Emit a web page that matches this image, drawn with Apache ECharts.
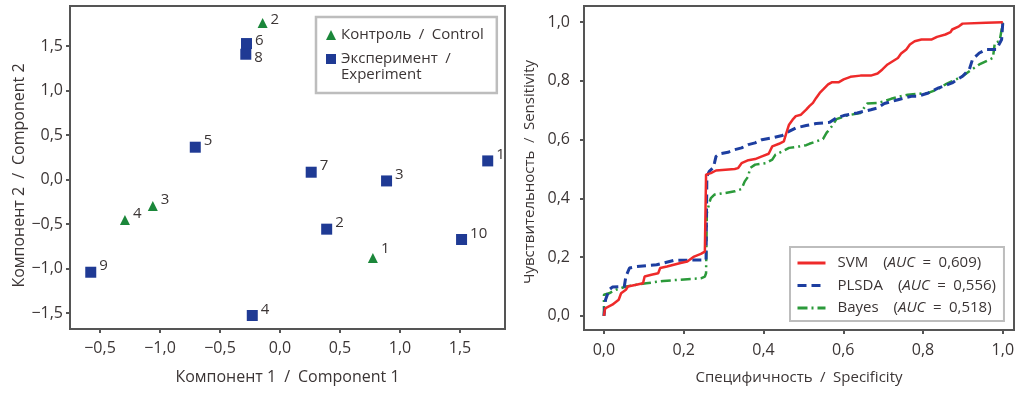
<!DOCTYPE html>
<html><head><meta charset="utf-8">
<script src="https://cdn.jsdelivr.net/npm/echarts@6/dist/echarts.min.js"></script>
<style>html,body{margin:0;padding:0;background:#fff}#c{width:1024px;height:394px}</style>
</head><body><div id="c"></div>
<script>
// ---------- Data: left panel (PCA scores) ----------
const controlLabels = ['2', '3', '4', '1'];
const controlX = [-0.145, -1.06, -1.292, 0.774];
const controlY = [1.76, -0.297, -0.454, -0.881];

const experimentLabels = ['6', '8', '5', '7', '3', '1', '2', '10', '9', '4'];
const experimentX = [-0.279, -0.285, -0.706, 0.26, 0.888, 1.731, 0.389, 1.513, -1.577, -0.231];
const experimentY = [1.528, 1.408, 0.363, 0.082, -0.016, 0.209, -0.558, -0.674, -1.042, -1.528];

const leftXTickValues = [-1.5, -1.0, -0.5, 0, 0.5, 1.0, 1.5];
const leftXTickLabels = ['\u22120,5', '\u22121,0', '\u22120,5', '0,0', '0,5', '1,0', '1,5'];
const leftYTickValues = [-1.5, -1.0, -0.5, 0, 0.5, 1.0, 1.5];
const leftYTickLabels = ['\u22121,5', '\u22121,0', '\u22120,5', '0,0', '0,5', '1,0', '1,5'];

// ---------- Data: right panel (ROC curves) ----------
const svmX = [0, 0.003, 0.021, 0.037, 0.043, 0.055, 0.060, 0.081, 0.098, 0.102, 0.119, 0.136, 0.141, 0.158, 0.175, 0.192, 0.209, 0.226, 0.243, 0.253, 0.256, 0.268, 0.281, 0.328, 0.336, 0.345, 0.362, 0.379, 0.396, 0.413, 0.422, 0.439, 0.451, 0.456, 0.464, 0.473, 0.481, 0.494, 0.507, 0.515, 0.524, 0.532, 0.541, 0.549, 0.562, 0.571, 0.588, 0.601, 0.618, 0.643, 0.669, 0.686, 0.698, 0.711, 0.724, 0.737, 0.745, 0.758, 0.767, 0.779, 0.796, 0.822, 0.835, 0.856, 0.869, 0.873, 0.890, 0.899, 0.958, 1.0];
const svmY = [0, 0.026, 0.038, 0.055, 0.077, 0.089, 0.100, 0.106, 0.111, 0.134, 0.140, 0.145, 0.163, 0.168, 0.174, 0.180, 0.185, 0.202, 0.211, 0.219, 0.481, 0.486, 0.495, 0.500, 0.503, 0.520, 0.530, 0.534, 0.543, 0.552, 0.577, 0.586, 0.594, 0.617, 0.651, 0.668, 0.680, 0.685, 0.702, 0.714, 0.725, 0.742, 0.759, 0.770, 0.788, 0.795, 0.795, 0.805, 0.814, 0.818, 0.818, 0.825, 0.839, 0.856, 0.867, 0.878, 0.893, 0.907, 0.924, 0.935, 0.941, 0.941, 0.950, 0.958, 0.966, 0.975, 0.986, 0.995, 0.998, 1.0];

const plsdaX = [0, 0.002, 0.004, 0.013, 0.021, 0.051, 0.055, 0.064, 0.081, 0.132, 0.149, 0.175, 0.256, 0.258, 0.264, 0.273, 0.277, 0.281, 0.290, 0.311, 0.328, 0.345, 0.362, 0.379, 0.396, 0.422, 0.447, 0.464, 0.481, 0.507, 0.532, 0.566, 0.583, 0.601, 0.635, 0.669, 0.686, 0.703, 0.737, 0.771, 0.788, 0.813, 0.839, 0.873, 0.899, 0.916, 0.924, 0.941, 0.958, 0.984, 0.997, 1.0];
const plsdaY = [0, 0.026, 0.055, 0.089, 0.098, 0.100, 0.134, 0.163, 0.168, 0.174, 0.180, 0.189, 0.191, 0.475, 0.492, 0.503, 0.520, 0.543, 0.552, 0.557, 0.566, 0.572, 0.583, 0.589, 0.600, 0.606, 0.614, 0.628, 0.640, 0.648, 0.655, 0.659, 0.674, 0.682, 0.691, 0.702, 0.708, 0.723, 0.736, 0.748, 0.748, 0.759, 0.776, 0.793, 0.816, 0.839, 0.873, 0.895, 0.907, 0.907, 0.941, 1.0];

const bayesX = [0, 0, 0.013, 0.030, 0.055, 0.081, 0.106, 0.149, 0.209, 0.243, 0.253, 0.256, 0.258, 0.264, 0.268, 0.277, 0.302, 0.328, 0.345, 0.353, 0.362, 0.366, 0.379, 0.405, 0.422, 0.430, 0.447, 0.464, 0.490, 0.507, 0.515, 0.532, 0.549, 0.558, 0.571, 0.583, 0.609, 0.643, 0.652, 0.660, 0.686, 0.703, 0.720, 0.745, 0.762, 0.813, 0.839, 0.856, 0.873, 0.899, 0.916, 0.941, 0.967, 0.975, 0.980, 0.992, 1.0];
const bayesY = [0, 0.072, 0.077, 0.089, 0.100, 0.106, 0.111, 0.119, 0.125, 0.128, 0.134, 0.145, 0.350, 0.384, 0.401, 0.413, 0.418, 0.424, 0.432, 0.458, 0.475, 0.503, 0.515, 0.520, 0.532, 0.549, 0.560, 0.572, 0.577, 0.581, 0.586, 0.594, 0.602, 0.623, 0.645, 0.670, 0.682, 0.691, 0.708, 0.723, 0.725, 0.731, 0.739, 0.748, 0.753, 0.759, 0.773, 0.788, 0.799, 0.816, 0.833, 0.856, 0.873, 0.878, 0.930, 0.935, 1.0];

const rocNames = ['SVM', 'PLSDA', 'Bayes'];
const aucLabels = ['0,609', '0,556', '0,518'];

const rightTickValues = [0, 0.2, 0.4, 0.6, 0.8, 1.0];
const rightTickLabels = ['0,0', '0,2', '0,4', '0,6', '0,8', '1,0'];

// ---------- Chart ----------
const FONT = "'Open Sans', 'Noto Sans', sans-serif";
const TXT = '#3b3535';
const AX = '#555555';
const SEP = '\u2002/\u2002';
const zip = (a, b) => a.map((v, i) => [v, b[i]]);
const lookup = (vals, labs) => (v) => {
  const i = vals.findIndex(t => Math.abs(t - v) < 1e-9);
  return i >= 0 ? labs[i] : '';
};

function valueAxis(gridIndex, min, max, tickVals, tickLabs, name, nameGap, labelMargin, nameStyle) {
  return {
    type: 'value', gridIndex, min, max,
    name, nameLocation: 'middle', nameGap,
    nameTextStyle: Object.assign({ fontFamily: FONT, fontSize: 16, color: TXT }, nameStyle || {}),
    axisLine: { show: true, onZero: false, lineStyle: { color: AX, width: 2 } },
    axisTick: { show: true, length: 4, lineStyle: { color: AX, width: 2 }, customValues: tickVals },
    axisLabel: { customValues: tickVals, formatter: lookup(tickVals, tickLabs), fontFamily: FONT, fontSize: 16, color: TXT, margin: labelMargin },
    splitLine: { show: false }
  };
}

// label placement tweaks (style only) for crowded points
const controlLabelDy = { '2': -3, '1': -9 };
const experimentLabelDy = { '6': -3, '8': 4 };
const pointLabel = { show: true, position: 'right', distance: 3, offset: [0, -6], fontFamily: FONT, fontSize: 15, color: TXT };
const mkPoints = (xs, ys, labs, dyMap) => xs.map((x, i) => ({
  value: [x, ys[i]],
  label: { formatter: labs[i], offset: [0, dyMap[labs[i]] !== undefined ? dyMap[labs[i]] : -6] }
}));

const nameControl = 'Контроль' + SEP + 'Control';
// leading blank line keeps the marker level with the first text line
const nameExp = ' \nЭксперимент' + SEP + '\nExperiment';

const legendTextBase = { fontFamily: FONT, fontSize: 15, color: TXT };

const option = {
  animation: false,
  backgroundColor: '#ffffff',
  grid: [
    { left: 70, top: 6, width: 435, height: 323, show: true, borderColor: AX, borderWidth: 2 },
    { left: 584, top: 6, width: 430, height: 324, show: true, borderColor: AX, borderWidth: 2 }
  ],
  xAxis: [
    valueAxis(0, -1.75, 1.875, leftXTickValues, leftXTickLabels, 'Компонент 1' + SEP + 'Component 1', 40, 11),
    valueAxis(1, -0.05, 1.028, rightTickValues, rightTickLabels, 'Специфичность' + SEP + 'Specificity', 40, 12, { fontSize: 15 })
  ],
  yAxis: [
    valueAxis(0, -1.68, 1.95, leftYTickValues, leftYTickLabels, 'Компонент 2' + SEP + 'Component 2', 42, 7, { padding: [0, 16, 0, 0] }),
    valueAxis(1, -0.048, 1.055, rightTickValues, rightTickLabels, 'Чувствительность' + SEP + 'Sensitivity', 47, 14, { fontSize: 15, padding: [0, 8, 0, 0] })
  ],
  legend: [
    {
      left: 316, top: 17, orient: 'vertical',
      backgroundColor: '#fff', borderColor: '#bdbdbd', borderWidth: 2.5,
      padding: [10, 13, 10, 10], itemGap: -8, itemWidth: 10, itemHeight: 10,
      textStyle: Object.assign({ lineHeight: 16 }, legendTextBase),
      data: [
        { name: nameControl, icon: 'triangle' },
        { name: nameExp, icon: 'rect' }
      ]
    },
    {
      left: 790, top: 247, orient: 'vertical',
      backgroundColor: '#fff', borderColor: '#bdbdbd', borderWidth: 2,
      padding: [7, 8, 4, 6], itemGap: 4.5, itemWidth: 28, itemHeight: 14,
      itemStyle: { opacity: 0 },
      lineStyle: { width: 3 },
      data: rocNames,
      formatter: (name) => {
        const i = rocNames.indexOf(name);
        return name + '\u2002\u2002({i|AUC}\u2002=\u2002' + aucLabels[i] + ')';
      },
      textStyle: Object.assign({ padding: [0, 0, 0, 7], lineHeight: 18, rich: { i: { fontFamily: FONT, fontSize: 15, color: TXT, fontStyle: 'italic' } } }, legendTextBase)
    }
  ],
  series: [
    {
      name: nameControl, type: 'scatter', xAxisIndex: 0, yAxisIndex: 0,
      symbol: 'triangle', symbolSize: 10, itemStyle: { color: '#1b873a', opacity: 1 },
      label: pointLabel, data: mkPoints(controlX, controlY, controlLabels, controlLabelDy), z: 3
    },
    {
      name: nameExp, type: 'scatter', xAxisIndex: 0, yAxisIndex: 0,
      symbol: 'rect', symbolSize: 11, itemStyle: { color: '#1f3a94', opacity: 1 },
      label: pointLabel, data: mkPoints(experimentX, experimentY, experimentLabels, experimentLabelDy), z: 2
    },
    {
      name: rocNames[0], type: 'line', xAxisIndex: 1, yAxisIndex: 1, symbol: 'none', z: 4,
      lineStyle: { color: '#ee2a2a', width: 2.5 }, itemStyle: { color: '#ee2a2a' },
      data: zip(svmX, svmY)
    },
    {
      name: rocNames[1], type: 'line', xAxisIndex: 1, yAxisIndex: 1, symbol: 'none', z: 3,
      lineStyle: { color: '#1d3ea0', width: 3, type: [9, 5] }, itemStyle: { color: '#1d3ea0' },
      data: zip(plsdaX, plsdaY)
    },
    {
      name: rocNames[2], type: 'line', xAxisIndex: 1, yAxisIndex: 1, symbol: 'none', z: 2,
      lineStyle: { color: '#2b9a3a', width: 2.5, type: [10, 4, 2, 4] }, itemStyle: { color: '#2b9a3a' },
      data: zip(bayesX, bayesY)
    }
  ]
};

const chart = echarts.init(document.getElementById('c'), null, { renderer: 'canvas' });
chart.setOption(option);
</script>
</body></html>
